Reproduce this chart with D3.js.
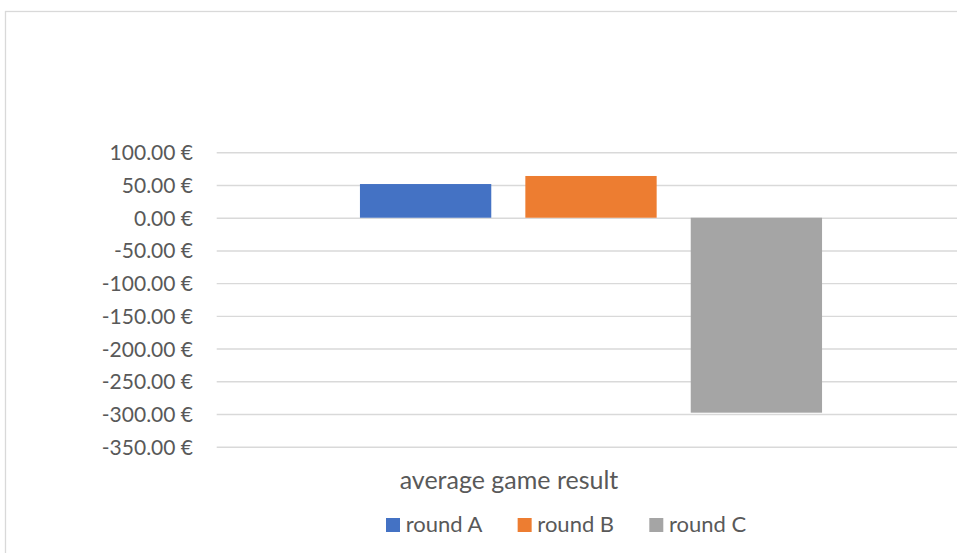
<!DOCTYPE html>
<html>
<head>
<meta charset="utf-8">
<script src="https://cdn.jsdelivr.net/npm/d3@7/dist/d3.min.js"></script>
<style>
  html, body { margin: 0; padding: 0; background: #fff; }
  svg { display: block; }
  text { font-family: Lato, "Open Sans", sans-serif; fill: #595959; }
</style>
</head>
<body>
<svg id="chart" width="957" height="553"></svg>
<script>
// Chart data
const categories = ["average game result"];
const seriesNames = ["round A", "round B", "round C"];
const seriesValues = [51.5, 63.8, -298];
const yTicks = [100, 50, 0, -50, -100, -150, -200, -250, -300, -350];
const seriesColors = ["#4472C4", "#ED7D31", "#A5A5A5"];

const svg = d3.select("#chart");

// Chart frame (the outer border runs past the right and bottom edges)
svg.append("rect")
  .attr("x", 5.5).attr("y", 11.5)
  .attr("width", 1000).attr("height", 600)
  .attr("fill", "#fff")
  .attr("stroke", "#d9d9d9").attr("stroke-width", 1.3);

const plot = { left: 216.7, right: 965.3, top: 152.3, bottom: 446.7 };

const y = d3.scaleLinear()
  .domain([-350, 100])
  .range([plot.bottom, plot.top]);

const x0 = d3.scaleBand()
  .domain(categories)
  .range([plot.left, plot.right])
  .paddingOuter(0.31);

const x1 = d3.scaleBand()
  .domain(seriesNames)
  .range([0, x0.bandwidth()])
  .paddingInner(0.206)
  .paddingOuter(0);

const fmt = v => d3.format(".2f")(v).replace("−", "-") + " €";

// Gridlines and value labels
const yAxis = d3.axisLeft(y)
  .tickValues(yTicks)
  .tickSize(-(plot.right - plot.left))
  .tickPadding(23.7)
  .tickFormat(fmt);

const gy = svg.append("g")
  .attr("transform", `translate(${plot.left},0)`)
  .call(yAxis);
gy.select(".domain").remove();
gy.selectAll(".tick line")
  .attr("stroke", "#d9d9d9").attr("stroke-width", 1.4);
gy.selectAll(".tick text")
  .attr("font-size", 21)
  .attr("dy", "0.36em")
  .style("fill", "#595959");

// Bars
const group = svg.append("g");
categories.forEach(cat => {
  group.selectAll("rect.bar")
    .data(seriesNames.map((s, i) => ({ s, v: seriesValues[i], c: seriesColors[i] })))
    .join("rect")
    .attr("class", "bar")
    .attr("x", d => x0(cat) + x1(d.s))
    .attr("width", x1.bandwidth())
    .attr("y", d => y(Math.max(0, d.v)))
    .attr("height", d => Math.abs(y(d.v) - y(0)))
    .attr("fill", d => d.c);
});

// Category label
svg.append("text")
  .attr("x", 509).attr("y", 489)
  .attr("text-anchor", "middle")
  .attr("font-size", 25)
  .text(categories[0]);

// Legend
const legendX = d3.scalePoint()
  .domain(seriesNames)
  .range([386, 649.3]);

const legend = svg.append("g");
const items = legend.selectAll("g")
  .data(seriesNames.map((s, i) => ({ s, c: seriesColors[i] })))
  .join("g")
  .attr("transform", d => `translate(${legendX(d.s)},518)`);
items.append("rect")
  .attr("width", 14).attr("height", 14)
  .attr("fill", d => d.c);
items.append("text")
  .attr("x", 19.7).attr("y", 13.8)
  .attr("font-size", 22)
  .text(d => d.s);
</script>
</body>
</html>
